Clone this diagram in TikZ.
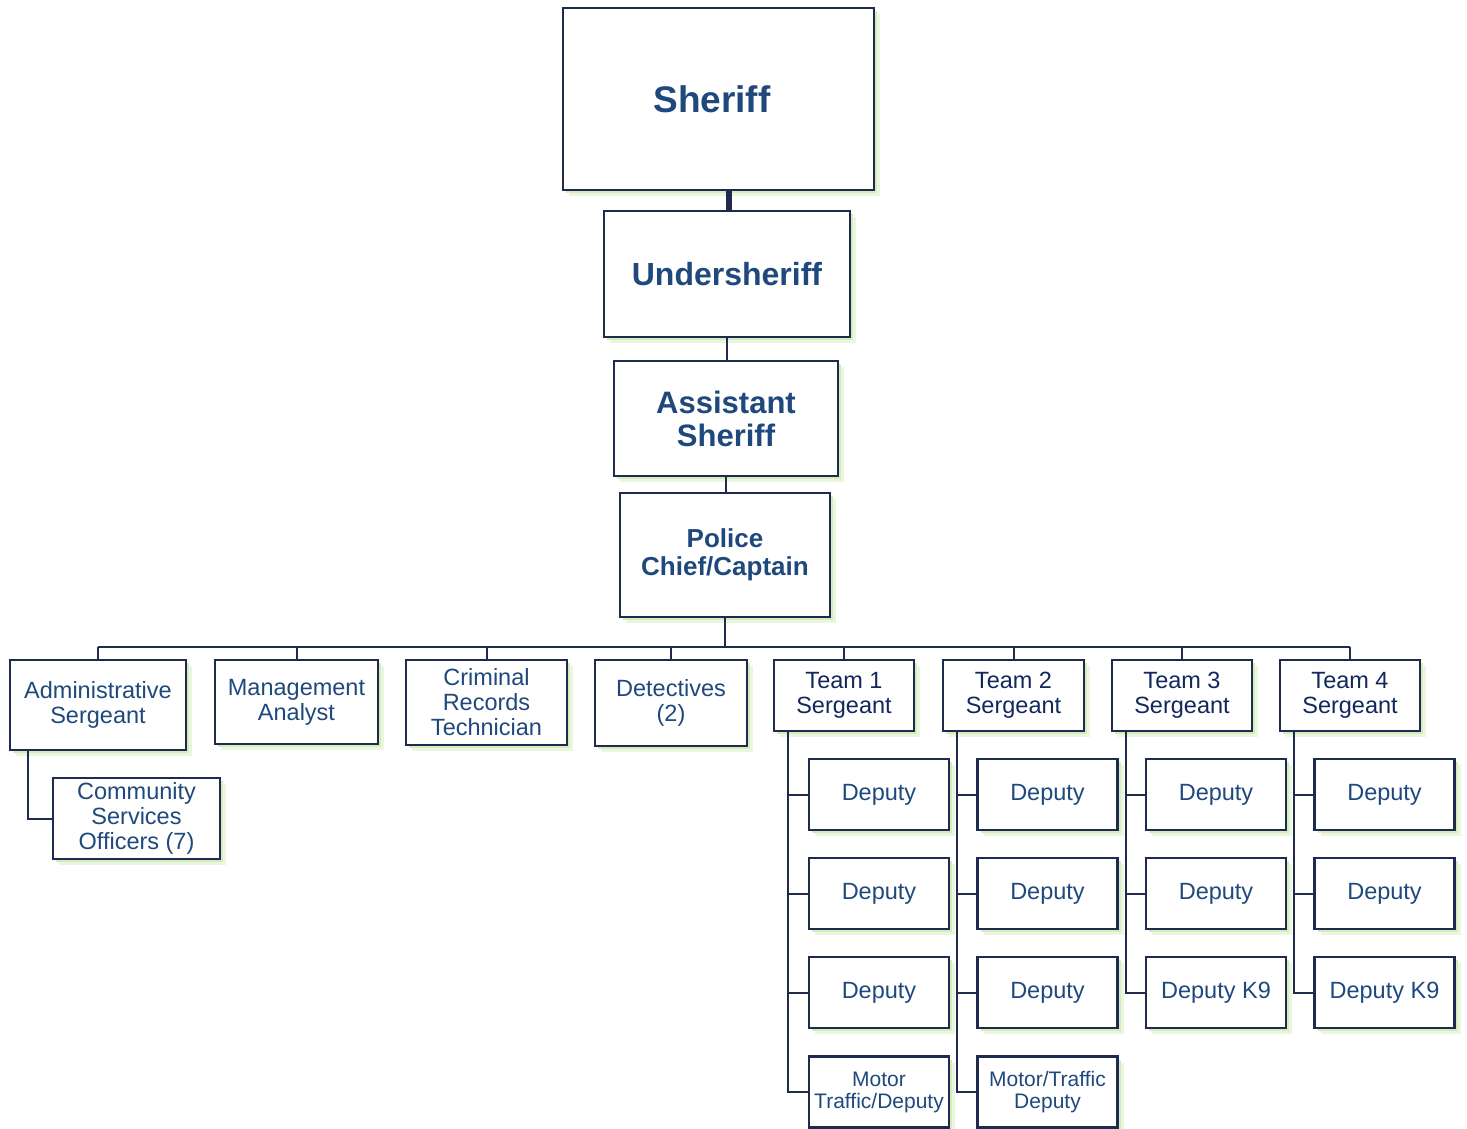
\documentclass[tikz,border=0pt]{standalone}
\usepackage{fontspec}
\setmainfont{Liberation Sans}
\usetikzlibrary{shadows}
\definecolor{boxline}{RGB}{30,42,78}
\definecolor{txtblue}{RGB}{31,73,125}
\definecolor{teamblue}{RGB}{18,40,92}
\definecolor{glow}{RGB}{214,236,190}
\definecolor{glowsoft}{RGB}{234,246,222}
\tikzset{
  glowshadow/.style={
    general shadow={fill=glowsoft, shadow xshift=6pt, shadow yshift=-6pt},
    general shadow={fill=glow, shadow xshift=3pt, shadow yshift=-3pt}},
  box/.style={draw=boxline, line width=2.6pt, fill=white, inner sep=0pt,
    align=center, text=txtblue, glowshadow},
  chiefbox/.style={box, font=\bfseries},
  unitbox/.style={box, font=\fontsize{23.5}{25}\selectfont},
  teambox/.style={box, text=teamblue, font=\fontsize{23.5}{25}\selectfont},
  deputybox/.style={box, minimum width=140pt, minimum height=71pt,
    font=\fontsize{23.5}{25}\selectfont},
  motorbox/.style={deputybox, font=\fontsize{21}{22}\selectfont},
  link/.style={draw=boxline, line width=2pt},
}
\begin{document}
\begin{tikzpicture}[x=1pt, y=-1pt]
\useasboundingbox (0,0) rectangle (1467,1129);

% command staff
\node[chiefbox, minimum width=311pt, minimum height=182pt,
  font=\bfseries\fontsize{37}{40}\selectfont] (sheriff) at (718.5,99) {Sheriff\hspace*{13pt}};
\node[chiefbox, minimum width=246pt, minimum height=126pt,
  font=\bfseries\fontsize{32}{34}\selectfont] (under) at (727,274) {Undersheriff};
\node[chiefbox, minimum width=224pt, minimum height=115pt,
  font=\bfseries\fontsize{31}{33}\selectfont] (asst) at (726,418.5) {Assistant\\Sheriff};
\node[chiefbox, minimum width=210pt, minimum height=124pt,
  font=\bfseries\fontsize{26}{28}\selectfont] (chief) at (725,555) {Police\\Chief/Captain};

% units reporting to the chief
\node[unitbox, minimum width=176pt, minimum height=90pt] (admin) at (98,705) {Administrative\\Sergeant};
\node[unitbox, minimum width=163pt, minimum height=84pt] (analyst) at (296.5,702) {Management\\Analyst};
\node[unitbox, minimum width=161pt, minimum height=85pt] (records) at (486.5,702.5) {Criminal\\Records\\Technician};
\node[unitbox, minimum width=152pt, minimum height=86pt] (detect) at (671,703) {Detectives\\(2)};
\node[unitbox, minimum width=167pt, minimum height=81pt] (cso) at (136.5,818.5) {Community\\Services\\Officers (7)};

% patrol team sergeants
\node[teambox, minimum width=140pt, minimum height=71pt] (t1) at (844,695.5) {Team 1\\Sergeant};
\node[teambox, minimum width=141pt, minimum height=71pt] (t2) at (1013.5,695.5) {Team 2\\Sergeant};
\node[teambox, minimum width=140pt, minimum height=71pt] (t3) at (1182,695.5) {Team 3\\Sergeant};
\node[teambox, minimum width=140pt, minimum height=71pt] (t4) at (1350,695.5) {Team 4\\Sergeant};

% deputies, team 1
\node[deputybox] (d11) at (879,794.5) {Deputy};
\node[deputybox] (d12) at (879,893.5) {Deputy};
\node[deputybox] (d13) at (879,992.5) {Deputy};
\node[motorbox] (d14) at (879,1092) {Motor\\Traffic/Deputy};
% deputies, team 2
\node[deputybox] (d21) at (1047.5,794.5) {Deputy};
\node[deputybox] (d22) at (1047.5,893.5) {Deputy};
\node[deputybox] (d23) at (1047.5,992.5) {Deputy};
\node[motorbox] (d24) at (1047.5,1092) {Motor/Traffic\\Deputy};
% deputies, team 3
\node[deputybox] (d31) at (1216,794.5) {Deputy};
\node[deputybox] (d32) at (1216,893.5) {Deputy};
\node[deputybox] (d33) at (1216,992.5) {Deputy K9};
% deputies, team 4
\node[deputybox] (d41) at (1384.5,794.5) {Deputy};
\node[deputybox] (d42) at (1384.5,893.5) {Deputy};
\node[deputybox] (d43) at (1384.5,992.5) {Deputy K9};

% chain of command (vertical drops)
\draw[link, line width=6pt] ([xshift=2pt]under.north) -- ([xshift=2pt]under.north |- sheriff.south);
\draw[link] (under.north |- under.south) -- (under.north |- asst.north);
\draw[link] (asst.north |- asst.south) -- (asst.north |- chief.north);

% distribution bus under the chief
\coordinate (busL) at (98,647);
\coordinate (busR) at (1350,647);
\draw[link] (busL) -- (busR);
\draw[link] (chief.south) -- (chief.south |- busL);
\foreach \n in {admin,analyst,records,detect,t1,t2,t3,t4}
  \draw[link] (\n.north) -- (\n.north |- busL);

% administrative sergeant to community services officers
\draw[link] ([xshift=19pt]admin.south west) |- (cso.west);

% team sergeants to their deputies
\foreach \t/\last in {1/4,2/4,3/3,4/3}
  \foreach \k in {1,...,\last}
    \draw[link] ([xshift=15pt]t\t.south west) |- (d\t\k.west);
\end{tikzpicture}
\end{document}
